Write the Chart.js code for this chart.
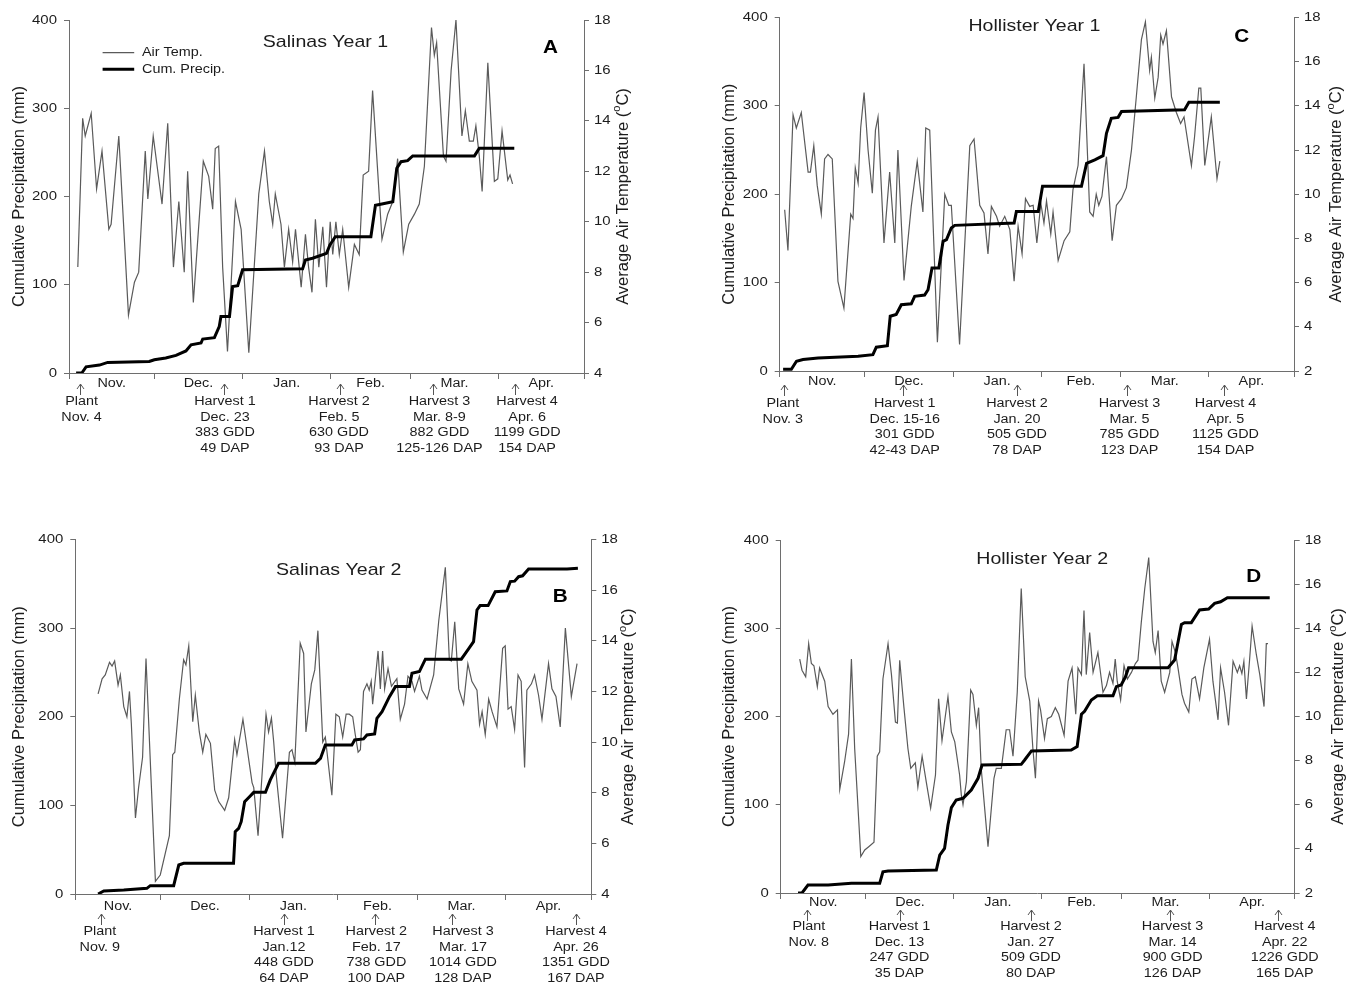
<!DOCTYPE html>
<html>
<head>
<meta charset="utf-8">
<title>Cumulative precipitation and air temperature</title>
<script src="https://cdn.jsdelivr.net/npm/chart.js@4.4.1/dist/chart.umd.min.js"></script>
<style>
  html, body { margin: 0; padding: 0; background: #fff; }
  body { width: 1356px; height: 984px; position: relative; overflow: hidden; }
  canvas { position: absolute; }
</style>
</head>
<body>
<canvas id="chartA" width="678" height="490" style="left:0;top:0"></canvas>
<canvas id="chartC" width="678" height="490" style="left:678px;top:0"></canvas>
<canvas id="chartB" width="678" height="494" style="left:0;top:490px"></canvas>
<canvas id="chartD" width="678" height="494" style="left:678px;top:490px"></canvas>
<script>
// x axis counts days from Nov. 1
const monthStarts = [0, 30, 61, 92, 120, 151, 181];
const monthNames = ['Nov.', 'Dec.', 'Jan.', 'Feb.', 'Mar.', 'Apr.'];

// ---- Salinas year 1 ----
const tempDaysA = [3.1, 4.8, 5.7, 7.8, 9.7, 11.6, 14.0, 14.8, 17.5, 20.9, 23.0, 24.5, 26.8, 27.7, 29.6, 32.7, 34.7, 36.7, 38.6, 40.5,
  41.7, 43.7, 47.2, 49.1, 50.5, 51.4, 52.6, 54.0, 55.7, 58.5, 60.5, 63.2, 66.7, 68.7, 70.4, 71.6, 72.5, 74.5, 75.7, 77.2,
  78.6, 79.6, 81.6, 83.1, 84.2, 85.4, 86.6, 87.8, 89.2, 90.5, 91.8, 92.7, 93.8, 95.0, 96.2, 98.3, 100.3, 102.0, 103.4, 105.3,
  106.7, 110.0, 112.0, 113.8, 115.5, 117.5, 119.4, 121.4, 123.1, 124.9, 127.4, 128.4, 129.2, 131.6, 132.5, 134.3, 136.0, 138.1, 139.3, 140.7,
  142.1, 143.0, 144.2, 145.2, 147.2, 149.5, 150.7, 152.2, 154.2, 155.0, 155.9];
const tempA = [8.2, 14.1, 13.4, 14.3, 11.3, 12.8, 9.7, 9.9, 13.4, 6.3, 7.6, 8.0, 12.8, 10.9, 13.4, 10.7, 13.9, 8.2, 10.8, 8.0,
  12.0, 6.8, 12.4, 11.8, 10.5, 12.9, 13.0, 8.2, 4.85, 10.8, 9.7, 4.8, 11.1, 12.8, 10.8, 9.9, 11.1, 9.9, 8.2, 9.7,
  8.4, 9.7, 7.4, 9.5, 8.2, 7.2, 10.1, 8.2, 9.8, 7.4, 10.0, 8.7, 10.0, 8.7, 9.7, 7.4, 9.1, 8.7, 11.85, 12.0,
  15.2, 9.3, 10.3, 10.8, 12.5, 8.8, 9.9, 10.3, 10.7, 12.2, 17.7, 16.6, 17.1, 12.6, 12.4, 16.0, 18.0, 13.4, 14.4, 13.2,
  13.2, 13.8, 12.6, 11.2, 16.3, 11.6, 11.7, 13.6, 11.65, 11.85, 11.5];
const precipDaysA = [2.5, 4.5, 6, 10.7, 13.6, 28.2, 30, 34, 37.6, 41.1, 42.9, 46.4, 47, 51.1, 52.8, 53.4, 56.4, 57.5, 59.3, 61,
  82.1, 83.1, 85.6, 90.5, 91.7, 93.6, 106.1, 107.7, 109.1, 113.8, 115.2, 116.7, 119, 120.8, 142.5, 144.2, 156.5];
const precipA = [0, 0, 7, 9, 12, 13, 15, 17, 20, 25, 32, 34, 38.5, 40, 52.5, 64, 64, 98, 99, 117,
  118, 128, 130, 135.6, 145, 154.5, 154.5, 190, 191, 194, 232, 239.5, 240.6, 246, 246, 254.6, 254.6];
const arrowDaysA = [3.9, 54.6, 95.2, 127.9, 156.8];
const noteDaysA = [4.4, 54.8, 94.9, 130.2, 161];
const notesA = [
  ['Plant', 'Nov. 4'],
  ['Harvest 1', 'Dec. 23', '383 GDD', '49 DAP'],
  ['Harvest 2', 'Feb. 5', '630 GDD', '93 DAP'],
  ['Harvest 3', 'Mar. 8-9', '882 GDD', '125-126 DAP'],
  ['Harvest 4', 'Apr. 6', '1199 GDD', '154 DAP']
];

// ---- Hollister year 1 ----
const tempDaysC = [1.75, 2.9, 4.7, 5.85, 7.6, 10, 10.8, 12, 13.2, 14.65, 15.8, 17, 18.5, 20.5, 22.6, 25, 25.8, 26.6, 27.6, 28.5,
  29.7, 31.1, 32.6, 33.7, 34.6, 36.7, 38.7, 40.5, 41.6, 43.75, 46.3, 48.4, 50.4, 51.4, 52.8, 55.5, 58.1, 59.5, 60.4, 63.3,
  66.9, 68.4, 70.4, 71.9, 73.3, 74.5, 76.3, 77.4, 79.2, 81, 82.5, 83.9, 85.3, 86.5, 88, 89.2, 90.5, 91.9, 93, 93.9,
  95.4, 96.2, 98, 100.1, 102.1, 103.2, 105, 107.1, 109.1, 110.3, 111.4, 112.3, 113.4, 115, 117, 118.5, 120.3, 122, 123.8, 125.5,
  127.3, 128.7, 130.2, 130.8, 132, 133.2, 134.1, 134.9, 136.1, 137.9, 139.6, 141.1, 142.3, 144.9, 146, 147.5, 148.2, 149.6, 151.9, 153.9,
  154.9];
const tempC = [9.3, 7.46, 13.6, 13.0, 13.7, 11.0, 11.0, 12.2, 10.4, 9.1, 11.6, 11.8, 11.6, 6.06, 4.85, 9.1, 8.9, 11.2, 10.5, 13.0,
  14.6, 12.0, 10.05, 12.9, 13.5, 7.8, 11.0, 7.8, 12.0, 6.1, 9.45, 11.5, 9.2, 13.0, 12.9, 3.3, 10.0, 9.5, 9.5, 3.2,
  12.2, 12.5, 9.5, 9.15, 7.3, 9.45, 9.0, 8.55, 9.0, 8.4, 6.06, 8.55, 7.3, 9.8, 9.45, 9.5, 7.8, 9.6, 8.7, 9.7,
  8.2, 9.2, 7.0, 7.9, 8.3, 10.2, 11.3, 15.9, 9.2, 9.0, 10.0, 9.5, 9.9, 11.7, 7.9, 9.5, 9.8, 10.3, 12.0, 14.4,
  17.0, 17.8, 15.6, 16.2, 14.35, 15.3, 17.2, 16.8, 17.4, 14.4, 13.7, 13.2, 13.5, 11.3, 12.6, 14.8, 14.8, 11.3, 13.5, 10.7,
  11.5];
const precipDaysC = [1.2, 4.1, 5.9, 8.2, 13.5, 27.6, 32.8, 34, 37.9, 38.9, 41, 42.8, 46.3, 47.5, 51, 52.2, 53.6, 56, 57.5, 58.7,
  60.4, 61.6, 82.5, 83.3, 91, 92.5, 106.2, 108, 110.9, 113.8, 115, 116.7, 119.1, 120.3, 142.5, 144, 154.9];
const precipC = [2, 2, 11, 13, 14.7, 16.6, 18.5, 27, 28.7, 62, 64, 75, 76, 84.5, 86, 92, 116.5, 116.5, 146.7, 148.6,
  161.8, 164.8, 167.4, 180.6, 180.6, 209, 209, 235, 239, 243.6, 269, 286, 287, 293.7, 295.6, 304, 304];
const arrowDaysC = [1.4, 43.3, 83.5, 122.3, 156.3];
const noteDaysC = [1.1, 44, 83.5, 123.1, 156.9];
const notesC = [
  ['Plant', 'Nov. 3'],
  ['Harvest 1', 'Dec. 15-16', '301 GDD', '42-43 DAP'],
  ['Harvest 2', 'Jan. 20', '505 GDD', '78 DAP'],
  ['Harvest 3', 'Mar. 5', '785 GDD', '123 DAP'],
  ['Harvest 4', 'Apr. 5', '1125 GDD', '154 DAP']
];

// ---- Salinas year 2 ----
const tempDaysB = [8, 9.4, 10.5, 12, 12.9, 13.8, 15, 15.8, 17, 18.1, 19, 19.65, 21.1, 22.2, 23.6, 24.8, 26.4, 28.1, 29.8, 33,
  34.15, 34.9, 36.5, 38, 38.8, 39.8, 41.2, 42.1, 43.5, 44.7, 45.8, 47.4, 48.9, 50.3, 52.4, 53.8, 55.9, 56.7, 58.8, 62,
  62.6, 64.1, 66.9, 67.8, 68.8, 69.6, 70.4, 72.7, 75.1, 76, 77, 78.9, 80.1, 80.9, 82.8, 84, 85.1, 86.8, 87.7, 90,
  91.4, 92.6, 93.8, 95, 96.1, 97.3, 98.2, 99.2, 100, 101.1, 102.3, 103.1, 103.8, 104.3, 105.2, 106.2, 107, 107.8, 108.5, 109.7,
  110.9, 112.8, 114, 115.5, 116.7, 118.1, 119, 120.7, 121.6, 123.4, 125.7, 127.5, 129.8, 131.2, 131.9, 133.1, 134.5, 136.2, 137.7, 139.1,
  140.9, 141.8, 142.7, 143.8, 145, 146.2, 147.9, 149.9, 150.8, 151.8, 152.9, 154.1, 155.3, 156.4, 157.6, 158.4, 160, 161.1, 162.5, 163.7,
  166, 167.2, 168.6, 170.1, 171.9, 174, 176];
const tempB = [11.9, 12.5, 12.65, 13.15, 13.0, 13.2, 12.25, 12.65, 11.4, 11.0, 12.0, 10.74, 7.0, 8.2, 9.4, 13.3, 9.0, 4.5, 4.75, 6.3,
  9.5, 9.6, 11.7, 13.25, 13.05, 13.8, 10.8, 11.85, 10.4, 9.6, 10.3, 9.95, 8.1, 7.65, 7.3, 7.8, 10.1, 9.5, 10.9, 8.4,
  8.2, 6.3, 11.1, 10.4, 10.95, 10.0, 8.8, 6.2, 9.6, 9.7, 9.2, 13.9, 13.5, 10.4, 12.3, 12.85, 14.4, 10.0, 10.2, 7.9,
  11.1, 11.0, 10.2, 11.1, 11.1, 11.0, 10.3, 9.6, 9.7, 12.0, 12.3, 12.05, 12.4, 11.5, 12.45, 13.6, 12.1, 13.6, 12.1, 12.9,
  12.2, 12.5, 10.9, 11.5, 12.6, 12.4, 12.0, 12.6, 12.05, 11.7, 12.65, 14.8, 16.9, 13.25, 13.2, 14.75, 12.1, 11.5, 13.1, 12.4,
  12.05, 10.7, 11.2, 10.3, 11.7, 11.2, 10.6, 13.7, 13.8, 11.3, 11.4, 10.5, 12.65, 12.4, 9.0, 12.05, 12.3, 12.65, 11.85, 10.9,
  13.1, 12.1, 11.8, 10.6, 14.5, 11.8, 13.1];
const precipDaysB = [8, 10, 17, 25.1, 26.3, 34.5, 36.3, 38, 55.5, 56.1, 57.3, 58.2, 59.4, 60.6, 62.6, 66.7, 68.4, 71.3, 84.2, 86,
  87.7, 97, 98, 101.1, 102.3, 105, 105.8, 107.6, 110.2, 112.3, 117.2, 118.1, 120.7, 122.8, 135.4, 137.7, 139.7, 140.9, 142, 144.8,
  147.3, 151.4, 152.6, 154.1, 155.5, 156.9, 159, 172.5, 176.3];
const precipB = [0, 3.4, 4.5, 6.4, 9.4, 9.4, 32.7, 34.6, 34.6, 70.4, 74, 81.6, 104, 108, 114.7, 114.7, 128.7, 147.5, 147.5, 153,
  168, 168, 173.8, 175, 179.5, 180.6, 198.3, 205.8, 222.7, 234, 234, 249, 251, 265, 265, 275.4, 284.8, 320.5, 325.4, 325.4,
  341, 342, 352.5, 353, 358, 359, 366.8, 366.8, 367.6];
const arrowDaysB = [8.9, 73.2, 105.2, 132.1, 175.6];
const noteDaysB = [8.6, 73.2, 105.6, 136, 175.6];
const notesB = [
  ['Plant', 'Nov. 9'],
  ['Harvest 1', 'Jan.12', '448 GDD', '64 DAP'],
  ['Harvest 2', 'Feb. 17', '738 GDD', '100 DAP'],
  ['Harvest 3', 'Mar. 17', '1014 GDD', '128 DAP'],
  ['Harvest 4', 'Apr. 26', '1351 GDD', '167 DAP']
];

// ---- Hollister year 2 ----
const tempDaysD = [6.7, 7.5, 8.8, 9.85, 10.8, 11.7, 12.9, 13.7, 15.5, 16.7, 18.4, 20, 20.8, 22.5, 23.9, 24.9, 26.05, 28.2, 29.6, 31,
  32.85, 34, 34.85, 36, 37.8, 39, 40.4, 41.1, 41.9, 43.4, 44.8, 45.8, 47.4, 48.3, 49.8, 51.3, 52.8, 54.5, 55.6, 56.8,
  58.9, 60.1, 61.3, 63, 63.6, 64.2, 65.4, 66.9, 67.7, 68.9, 69.7, 70.6, 73, 75.1, 75.9, 77.7, 79.4, 80.6, 81.8, 83.3,
  84.7, 86.1, 87.7, 88.8, 89.7, 90.8, 91.5, 92.9, 93.9, 95.3, 96.7, 97.9, 99.8, 101.2, 102.6, 103.9, 104.7, 105.9, 106.8, 107.6,
  108.8, 110, 111.7, 113.5, 114.7, 115.8, 117, 117.8, 118.5, 119.7, 120.9, 122.1, 123.5, 124.9, 125.8, 127, 128.2, 129.6, 131.1, 131.9,
  132.9, 134, 135.2, 137, 137.8, 139, 139.9, 141.3, 142.2, 143.7, 144.8, 146, 147.5, 149, 151, 152.2, 154, 154.9, 156.3, 157.7,
  159.3, 160.8, 161.6, 162.4, 163.1, 164, 165.1, 166, 167.5, 168.7, 170.2, 171, 171.6];
const tempD = [12.6, 12.1, 11.8, 13.3, 12.4, 12.3, 11.35, 12.2, 11.6, 10.45, 10.1, 10.3, 6.7, 7.95, 9.2, 12.6, 8.55, 3.65, 3.95, 4.1,
  4.3, 8.2, 8.4, 11.7, 13.3, 11.9, 9.75, 9.7, 12.55, 10.4, 8.55, 7.65, 7.9, 6.8, 8.2, 7.0, 5.85, 7.35, 10.8, 8.9,
  10.9, 9.3, 8.85, 7.35, 6.45, 6.0, 7.05, 11.2, 11.0, 9.6, 10.4, 7.65, 4.1, 7.2, 7.65, 7.65, 9.4, 9.4, 8.2, 11.1,
  15.8, 11.8, 10.7, 8.55, 7.2, 10.7, 10.3, 9.0, 9.9, 10.0, 10.4, 10.1, 9.15, 11.6, 12.2, 10.1, 12.2, 11.9, 14.8, 11.9,
  13.8, 12.0, 12.9, 11.1, 11.4, 12.0, 11.5, 12.6, 11.6, 10.75, 12.3, 11.7, 12.0, 12.4, 12.55, 14.3, 15.8, 17.2, 13.4, 12.9,
  13.9, 11.6, 11.1, 12.0, 13.4, 12.9, 12.2, 11.0, 10.6, 10.2, 11.7, 11.8, 10.8, 12.2, 13.5, 11.6, 9.85, 12.2, 11.1, 9.6,
  12.5, 12.0, 12.3, 11.95, 12.5, 10.8, 12.55, 14.1, 12.8, 11.9, 10.45, 13.3, 13.3];
const precipDaysD = [6.1, 7.5, 9.6, 16.7, 24.9, 34.85, 36, 37.8, 54.8, 56, 57.7, 58.9, 60.1, 61.8, 64.2, 67.1, 69.5, 70.9, 84.7, 85.9,
  88.3, 102.3, 104.4, 105.9, 107, 109.4, 111.5, 117, 118.2, 119.9, 121.4, 122.5, 136.4, 138.7, 141.1, 142.2, 144.6, 147.5, 150.7, 152.8,
  154.9, 157.3, 172.2];
const precipD = [0, 0, 9, 9, 11, 11, 24, 25, 26, 43, 50.6, 77, 96.7, 105.4, 107.3, 116.7, 130, 145, 145.8, 150.7,
  161, 162, 166, 202.5, 206, 218.7, 223.6, 223.6, 233.8, 235.7, 245, 255.3, 255.3, 264, 304.4, 306.3, 306.3, 320.7, 321.8, 328.2,
  330, 334.7, 334.7];
const arrowDaysD = [9.4, 42.1, 88, 137.2, 175.2];
const noteDaysD = [9.9, 41.8, 88.1, 138, 177.5];
const notesD = [
  ['Plant', 'Nov. 8'],
  ['Harvest 1', 'Dec. 13', '247 GDD', '35 DAP'],
  ['Harvest 2', 'Jan. 27', '509 GDD', '80 DAP'],
  ['Harvest 3', 'Mar. 14', '900 GDD', '126 DAP'],
  ['Harvest 4', 'Apr. 22', '1226 GDD', '165 DAP']
];

const FONT = '"Liberation Sans", Arial, Helvetica, sans-serif';
const TEXT = '#1c1c1c';
const AXIS = '#6e6e6e';
const STRETCH = 1.15; // lettering in this figure runs a little wide

// panel layout, in each canvas' own pixels
const panels = [
  { id: 'chartA', title: 'Salinas Year 1', letter: 'A', tMin: 4, legend: true,
    tempDays: tempDaysA, temp: tempA, precipDays: precipDaysA, precip: precipA,
    arrowDays: arrowDaysA, noteDays: noteDaysA, notes: notesA,
    area: { l: 69, r: 584, t: 20, b: 373 },
    titleAt: [325.5, 42], letterAt: [550.5, 48.5], axisTitleX: [19.5, 623],
    monthY: 384, arrowY: 384, noteY: 402 },
  { id: 'chartC', title: 'Hollister Year 1', letter: 'C', tMin: 2, legend: false,
    tempDays: tempDaysC, temp: tempC, precipDays: precipDaysC, precip: precipC,
    arrowDays: arrowDaysC, noteDays: noteDaysC, notes: notesC,
    area: { l: 101.7, r: 616, t: 17.5, b: 371 },
    titleAt: [356.4, 26], letterAt: [563.8, 37.5], axisTitleX: [51.7, 658.9],
    monthY: 382, arrowY: 385, noteY: 404 },
  { id: 'chartB', title: 'Salinas Year 2', letter: 'B', tMin: 4, legend: false,
    tempDays: tempDaysB, temp: tempB, precipDays: precipDaysB, precip: precipB,
    arrowDays: arrowDaysB, noteDays: noteDaysB, notes: notesB,
    area: { l: 75.3, r: 591.3, t: 49.5, b: 404 },
    titleAt: [338.7, 80], letterAt: [560.3, 106.7], axisTitleX: [19.5, 628.8],
    monthY: 417, arrowY: 424, noteY: 442 },
  { id: 'chartD', title: 'Hollister Year 2', letter: 'D', tMin: 2, legend: false,
    tempDays: tempDaysD, temp: tempD, precipDays: precipDaysD, precip: precipD,
    arrowDays: arrowDaysD, noteDays: noteDaysD, notes: notesD,
    area: { l: 102.7, r: 616.7, t: 50, b: 403 },
    titleAt: [364.2, 69.3], letterAt: [575.7, 87.5], axisTitleX: [51.7, 660.7],
    monthY: 413, arrowY: 420, noteY: 437 }
];

function wideText(ctx, text, x, y, align) {
  ctx.save();
  ctx.translate(x, y);
  ctx.scale(STRETCH, 1);
  ctx.textAlign = align;
  ctx.fillText(text, 0, 0);
  ctx.restore();
}

function panelText(p) {
  return {
    id: 'panelText',
    afterDraw(chart) {
      const ctx = chart.ctx;
      const a = chart.chartArea;
      const xs = chart.scales.x, yP = chart.scales.yP, yT = chart.scales.yT;
      ctx.save();
      ctx.fillStyle = TEXT;
      ctx.textBaseline = 'middle';

      // tick labels
      ctx.font = '13px ' + FONT;
      yP.ticks.forEach(t => wideText(ctx, String(t.value), a.left - 12, yP.getPixelForValue(t.value), 'right'));
      yT.ticks.forEach(t => wideText(ctx, String(t.value), a.right + 10, yT.getPixelForValue(t.value), 'left'));

      // month names sit between the month ticks
      ctx.font = '12.5px ' + FONT;
      monthNames.forEach((m, i) => {
        const mid = (monthStarts[i] + monthStarts[i + 1]) / 2;
        wideText(ctx, m, xs.getPixelForValue(mid), p.monthY, 'center');
      });

      // axis titles
      const midY = (a.top + a.bottom) / 2;
      ctx.font = '16.5px ' + FONT;
      ctx.save();
      ctx.translate(p.axisTitleX[0], midY);
      ctx.rotate(-Math.PI / 2);
      ctx.textAlign = 'center';
      ctx.fillText('Cumulative Precipitation (mm)', 0, 0);
      ctx.restore();

      ctx.save();
      ctx.translate(p.axisTitleX[1], midY);
      ctx.rotate(-Math.PI / 2);
      const main = 'Average Air Temperature (', tail = 'C)';
      const wMain = ctx.measureText(main).width;
      const wTail = ctx.measureText(tail).width;
      ctx.font = '11px ' + FONT;
      const wSup = ctx.measureText('o').width;
      let cx = -(wMain + wSup + wTail) / 2;
      ctx.textAlign = 'left';
      ctx.font = '16.5px ' + FONT;
      ctx.fillText(main, cx, 0);
      cx += wMain;
      ctx.font = '11px ' + FONT;
      ctx.fillText('o', cx, -6);
      cx += wSup;
      ctx.font = '16.5px ' + FONT;
      ctx.fillText(tail, cx, 0);
      ctx.restore();

      // panel title and letter
      ctx.font = '17px ' + FONT;
      wideText(ctx, p.title, p.titleAt[0], p.titleAt[1], 'center');
      ctx.font = 'bold 18px ' + FONT;
      ctx.fillStyle = '#000';
      wideText(ctx, p.letter, p.letterAt[0], p.letterAt[1], 'center');
      ctx.fillStyle = TEXT;

      if (p.legend) {
        ctx.strokeStyle = '#5a5a5a';
        ctx.lineWidth = 1.2;
        ctx.beginPath();
        ctx.moveTo(102.6, 52.7); ctx.lineTo(134.2, 52.7);
        ctx.stroke();
        ctx.strokeStyle = '#000';
        ctx.lineWidth = 3;
        ctx.beginPath();
        ctx.moveTo(102.6, 69.3); ctx.lineTo(134.2, 69.3);
        ctx.stroke();
        ctx.font = '12.5px ' + FONT;
        wideText(ctx, 'Air Temp.', 142, 52.7, 'left');
        wideText(ctx, 'Cum. Precip.', 142, 69.3, 'left');
      }

      // planting / harvest arrows with their notes
      ctx.strokeStyle = '#555';
      ctx.lineWidth = 1;
      p.arrowDays.forEach(d => {
        const ax = Math.round(xs.getPixelForValue(d)) + 0.5;
        ctx.beginPath();
        ctx.moveTo(ax, p.arrowY);
        ctx.lineTo(ax, p.arrowY + 11);
        ctx.moveTo(ax - 3.5, p.arrowY + 5);
        ctx.lineTo(ax, p.arrowY);
        ctx.lineTo(ax + 3.5, p.arrowY + 5);
        ctx.stroke();
      });
      ctx.font = '12.5px ' + FONT;
      p.notes.forEach((lines, i) => {
        const nx = xs.getPixelForValue(p.noteDays[i]);
        lines.forEach((s, j) => wideText(ctx, s, nx, p.noteY + j * 15.5, 'center'));
      });
      ctx.restore();
    }
  };
}

function makeChart(p) {
  const canvas = document.getElementById(p.id);
  const W = canvas.width, H = canvas.height;
  new Chart(canvas, {
    type: 'line',
    data: {
      datasets: [
        {
          label: 'Cum. Precip.',
          data: p.precipDays.map((d, i) => ({ x: d, y: p.precip[i] })),
          yAxisID: 'yP',
          borderColor: '#000',
          borderWidth: 3,
          pointRadius: 0,
          tension: 0
        },
        {
          label: 'Air Temp.',
          data: p.tempDays.map((d, i) => ({ x: d, y: p.temp[i] })),
          yAxisID: 'yT',
          borderColor: '#5a5a5a',
          borderWidth: 1.2,
          pointRadius: 0,
          tension: 0
        }
      ]
    },
    options: {
      responsive: false,
      animation: false,
      devicePixelRatio: 1,
      layout: { padding: { top: p.area.t, left: 0, right: 0, bottom: 0 } },
      plugins: { legend: { display: false }, tooltip: { enabled: false } },
      scales: {
        x: {
          type: 'linear', min: 0, max: 181,
          afterBuildTicks: s => { s.ticks = monthStarts.map(v => ({ value: v })); },
          afterFit: s => { s.height = H - p.area.b; },
          ticks: { display: false },
          grid: { drawOnChartArea: false, tickLength: 6, color: AXIS },
          border: { color: AXIS }
        },
        yP: {
          position: 'left', min: 0, max: 400,
          ticks: { display: false, stepSize: 100 },
          afterFit: s => { s.width = p.area.l; },
          grid: { drawOnChartArea: false, tickLength: 5, color: AXIS },
          border: { color: AXIS }
        },
        yT: {
          position: 'right', min: p.tMin, max: 18,
          ticks: { display: false, stepSize: 2 },
          afterFit: s => { s.width = W - p.area.r; },
          grid: { drawOnChartArea: false, tickLength: 5, color: AXIS },
          border: { color: AXIS }
        }
      }
    },
    plugins: [panelText(p)]
  });
}

panels.forEach(makeChart);
</script>
</body>
</html>
